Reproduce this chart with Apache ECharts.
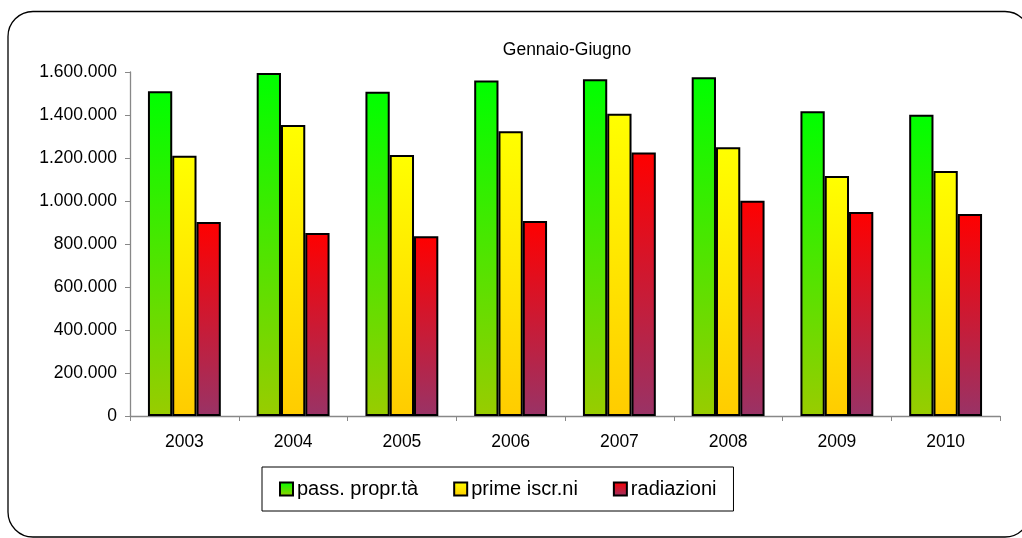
<!DOCTYPE html>
<html>
<head>
<meta charset="utf-8">
<script src="https://cdn.jsdelivr.net/npm/echarts@6/dist/echarts.min.js"></script>
<style>html,body{margin:0;padding:0;background:#fff;}#c{width:1022px;height:538px;}</style>
</head>
<body>
<div id="c"></div>
<script>
var categories = ['2003','2004','2005','2006','2007','2008','2009','2010'];
var passProprieta = [1510000,1595000,1508000,1561000,1566000,1576000,1417000,1401000];
var primeIscrizioni = [1211000,1354000,1214000,1324000,1406000,1250000,1116000,1139000];
var radiazioni = [902000,851000,836000,907000,1226000,1001000,949000,940000];
var seriesNames = ['pass. propr.tà','prime iscr.ni','radiazioni'];
var yTicks = {min:0, max:1600000, interval:200000};
var chartTitle = 'Gennaio-Giugno';

var FONT = '"Liberation Sans", Arial, sans-serif';
function grad(top, bottom){
  return new echarts.graphic.LinearGradient(0,0,0,1,[{offset:0,color:top},{offset:1,color:bottom}]);
}
function fmt(v){ return String(v).replace(/\B(?=(\d{3})+(?!\d))/g,'.'); }
var barStyle = function(top,bottom){ return {color:grad(top,bottom), borderColor:'#000', borderWidth:2}; };

var chart = echarts.init(document.getElementById('c'), null, {renderer:'canvas'});
chart.setOption({
  animation:false,
  backgroundColor:'#fff',
  textStyle:{fontFamily:FONT},
  title:{text:chartTitle, left:562, top:36, textAlign:'center',
    textStyle:{fontFamily:FONT, fontSize:17.5, fontWeight:'normal', color:'#000'}},
  graphic:[{type:'rect', shape:{x:8, y:11.5, width:1022, height:525.5, r:25},
    style:{fill:'none', stroke:'#000', lineWidth:1.3}, silent:true, z:-1}],
  grid:{left:130, right:22, top:72, bottom:122, containLabel:false},
  legend:{left:262, top:467, padding:[12,17], itemGap:35, itemWidth:13, itemHeight:13,
    borderColor:'#000', borderWidth:1, icon:'rect',
    textStyle:{fontFamily:FONT, fontSize:20, color:'#000', padding:[0,0,0,-1]},
    data:seriesNames},
  xAxis:{type:'category', data:categories, boundaryGap:true,
    axisLine:{lineStyle:{color:'#888', width:1.3}},
    axisTick:{show:true, length:5, alignWithLabel:false, lineStyle:{color:'#888'}},
    axisLabel:{fontFamily:FONT, fontSize:17.5, color:'#000', margin:17},
    splitLine:{show:false}},
  yAxis:{type:'value', min:yTicks.min, max:yTicks.max, interval:yTicks.interval,
    axisLine:{show:true, lineStyle:{color:'#888', width:1.3}},
    axisTick:{show:true, length:5, lineStyle:{color:'#888'}},
    axisLabel:{fontFamily:FONT, fontSize:17.5, color:'#000', margin:13, formatter:fmt},
    splitLine:{show:false}},
  series:[
    {name:seriesNames[0], type:'bar', data:passProprieta, barGap:'0%', barCategoryGap:'33%',
      itemStyle:barStyle('#00ff00','#99cc00')},
    {name:seriesNames[1], type:'bar', data:primeIscrizioni, barGap:'0%', barCategoryGap:'33%',
      itemStyle:barStyle('#ffff00','#ffcc00')},
    {name:seriesNames[2], type:'bar', data:radiazioni, barGap:'0%', barCategoryGap:'33%',
      itemStyle:barStyle('#ff0000','#993366')}
  ]
});
</script>
</body>
</html>
